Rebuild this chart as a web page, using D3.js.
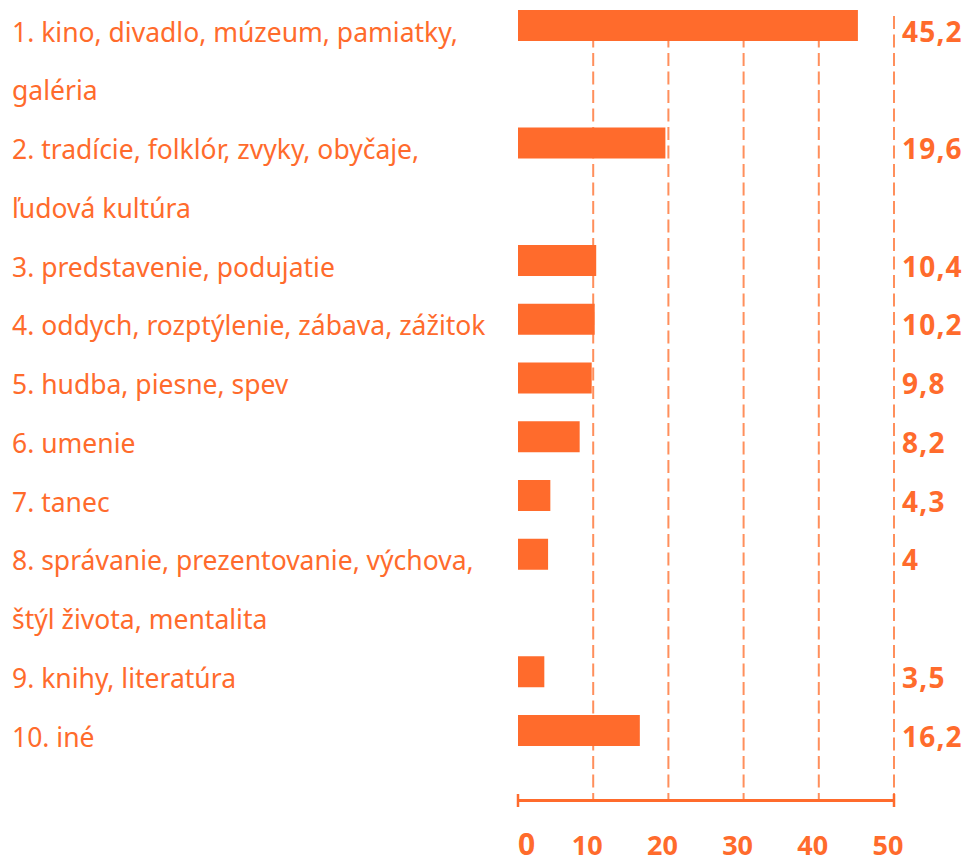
<!DOCTYPE html>
<html>
<head>
<meta charset="utf-8">
<script src="https://cdn.jsdelivr.net/npm/d3@7"></script>
<style>
  html, body { margin: 0; padding: 0; background: #fff; }
  svg text { font-family: "Noto Sans", Lato, sans-serif; fill: #ff6b2c; }
  .label { font-size: 26.5px; }
  .value, .tick-label { font-weight: bold; font-size: 28px; }
</style>
</head>
<body>
<svg id="chart" width="966" height="863"></svg>
<script>
// categories (text lines of each row), values, axis ticks
var categories = [
  ["1. kino, divadlo, múzeum, pamiatky,", "galéria"],
  ["2. tradície, folklór, zvyky, obyčaje,", "ľudová kultúra"],
  ["3. predstavenie, podujatie"],
  ["4. oddych, rozptýlenie, zábava, zážitok"],
  ["5. hudba, piesne, spev"],
  ["6. umenie"],
  ["7. tanec"],
  ["8. správanie, prezentovanie, výchova,", "štýl života, mentalita"],
  ["9. knihy, literatúra"],
  ["10. iné"]
];
var values = [45.2, 19.6, 10.4, 10.2, 9.8, 8.2, 4.3, 4, 3.5, 16.2];
var tickValues = [0, 10, 20, 30, 40, 50];

var orange = "#ff6b2c";
var gridColor = "#ff8f5c";

var svg = d3.select("#chart");

// each row starts on the line after the previous row's text
var rows = [];
var line = 0;
categories.forEach(function(c, i) {
  rows.push({lines: c, value: values[i], line: line});
  line += c.length;
});
var totalLines = line;

var x = d3.scaleLinear().domain([0, 50]).range([518, 894]);
var y = d3.scaleLinear().domain([0, totalLines - 1]).range([10, 715]);
var barH = 31;
var axisY = 800.5;

// dashed grid lines
svg.append("g").selectAll("line.grid")
  .data(tickValues.slice(1))
  .join("line")
  .classed("grid", true)
  .attr("x1", d => x(d)).attr("x2", d => x(d))
  .attr("y1", 16).attr("y2", axisY)
  .style("stroke", gridColor)
  .style("stroke-width", 2)
  .style("stroke-dasharray", "13,5.5");

// bars
svg.append("g").selectAll("rect.bar")
  .data(rows)
  .join("rect")
  .classed("bar", true)
  .attr("x", x(0))
  .attr("y", d => y(d.line))
  .attr("width", d => x(d.value) - x(0))
  .attr("height", barH)
  .style("fill", orange);

// category labels
var labels = svg.append("g");
rows.forEach(function(r) {
  r.lines.forEach(function(t, j) {
    labels.append("text")
      .classed("label", true)
      .attr("x", 12)
      .attr("y", y(r.line + j) + 31.5)
      .text(t);
  });
});

// value labels
svg.append("g").selectAll("text.value")
  .data(rows)
  .join("text")
  .classed("value", true)
  .attr("x", 902)
  .attr("y", d => y(d.line) + 31.5)
  .style("letter-spacing", "1.2px")
  .text(d => String(d.value).replace(".", ","));

// axis line with end caps
svg.append("line")
  .attr("x1", x(0)).attr("x2", x(50))
  .attr("y1", axisY).attr("y2", axisY)
  .style("stroke", orange).style("stroke-width", 3);
svg.append("g").selectAll("line.cap")
  .data([0, 50])
  .join("line")
  .attr("x1", d => x(d)).attr("x2", d => x(d))
  .attr("y1", axisY - 6.5).attr("y2", axisY + 6.5)
  .style("stroke", orange).style("stroke-width", 2.5);

// tick labels
svg.append("g").selectAll("text.tick-label")
  .data(tickValues)
  .join("text")
  .classed("tick-label", true)
  .attr("x", d => d === 0 ? x(d) : x(d) - 6)
  .attr("y", 855)
  .attr("text-anchor", d => d === 0 ? "start" : "middle")
  .style("font-size", d => d === 0 ? "30px" : "27px")
  .text(d => d);
</script>
</body>
</html>
